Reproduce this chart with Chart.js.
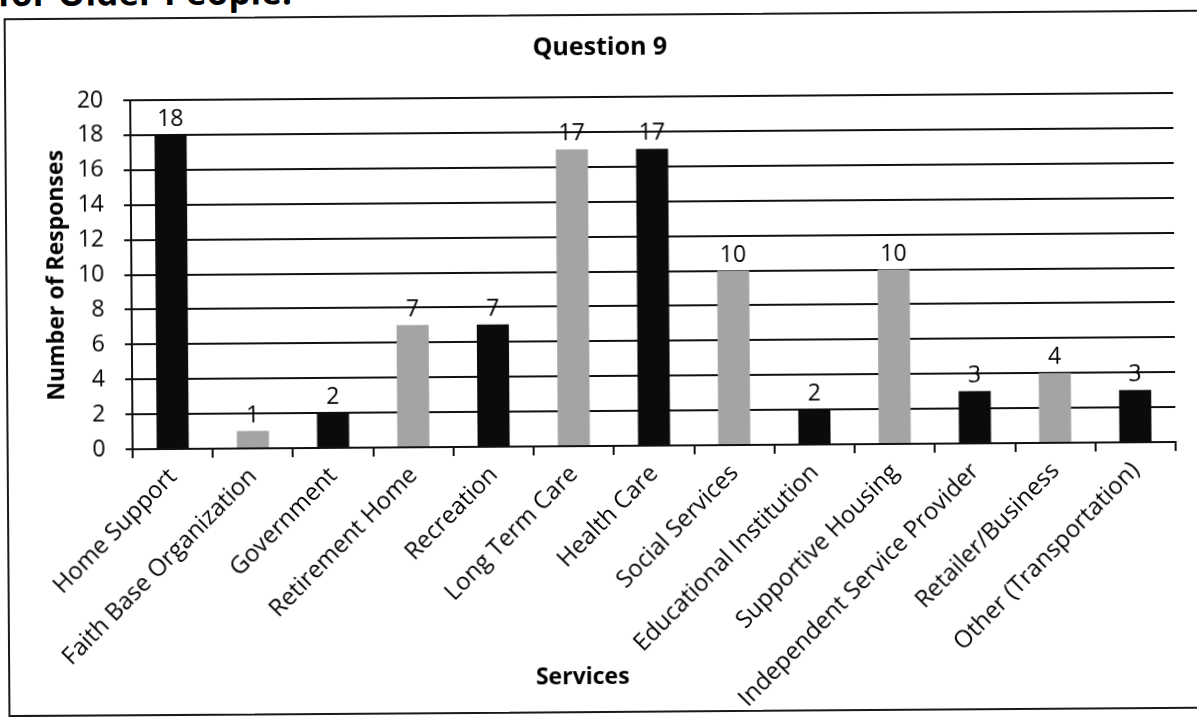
<!DOCTYPE html>
<html>
<head>
<meta charset="utf-8">
<script src="https://cdn.jsdelivr.net/npm/chart.js@4.4.1/dist/chart.umd.min.js"></script>
<style>
html, body { margin: 0; padding: 0; background: #fff; overflow: hidden; }
#page { position: relative; width: 1197px; height: 717px; transform: rotate(-0.4deg); transform-origin: 50% 50%; }
#heading { position: absolute; left: 0; top: -29px; font: bold 35px/35px "Open Sans"; color: #000; white-space: nowrap; }
#frame { position: absolute; left: 6px; top: 14px; width: 1220px; height: 695px; border: 2px solid #1a1a1a; }
#chartCanvas { position: absolute; left: 0; top: 0; }
</style>
</head>
<body>
<div id="page">
  <div id="heading">for Older People:</div>
  <div id="frame"></div>
  <canvas id="chartCanvas" width="1197" height="717"></canvas>
</div>
<script>
const services = [
    "Home Support", "Faith Base Organization", "Government", "Retirement Home",
    "Recreation", "Long Term Care", "Health Care", "Social Services",
    "Educational Institution", "Supportive Housing", "Independent Service Provider",
    "Retailer/Business", "Other (Transportation)"
];
const responses = [18, 1, 2, 7, 7, 17, 17, 10, 2, 10, 3, 4, 3];
const yMin = 0;
const yMax = 20;
const yStep = 2;

// bars alternate black / grey like the printed chart
function barColor(i){
    return i % 2 === 0 ? '#0b0b0b' : '#a4a4a4';
}

const ink = '#111';

// numbers on top of each bar
const valueLabels = {
    id: 'valueLabels',
    afterDatasetsDraw(chart){
        const ctx = chart.ctx;
        const meta = chart.getDatasetMeta(0);
        ctx.save();
        ctx.font = '23px "Open Sans"';
        ctx.fillStyle = '#000';
        ctx.textAlign = 'center';
        ctx.textBaseline = 'alphabetic';
        meta.data.forEach((bar, i) => {
            ctx.fillText(responses[i], bar.x, bar.y - 9);
        });
        ctx.restore();
    }
};

// x axis title: Excel centres it under the whole plot incl. labels, not the bars
const servicesTitle = {
    id: 'servicesTitle',
    afterDraw(chart){
        const ctx = chart.ctx;
        ctx.save();
        ctx.font = 'bold 23px "Open Sans"';
        ctx.fillStyle = '#000';
        ctx.textAlign = 'center';
        ctx.textBaseline = 'middle';
        ctx.fillText('Services', chart.width / 2 - 18, chart.height - 40);
        ctx.restore();
    }
};

const data = {
    labels: services,
    datasets: [{
        label: 'Number of Responses',
        data: responses,
        backgroundColor: services.map((s, i) => barColor(i)),
        borderWidth: 0,
        barPercentage: 0.4,
        categoryPercentage: 1
    }]
};

const config = {
    type: 'bar',
    data: data,
    plugins: [valueLabels, servicesTitle],
    options: {
        responsive: false,
        animation: false,
        layout: { padding: { left: 29, right: 22, top: 0, bottom: 0 } },
        plugins: {
            legend: { display: false },
            tooltip: { enabled: false },
            title: {
                display: true,
                text: 'Question 9',
                color: '#000',
                font: { family: 'Open Sans', size: 25, weight: 'bold' },
                padding: { top: 33, bottom: 34 }
            }
        },
        scales: {
            x: {
                offset: true,
                grid: { offset: true, drawOnChartArea: false, color: ink, lineWidth: 2, tickLength: 9 },
                border: { color: ink, width: 2 },
                ticks: {
                    autoSkip: false, maxRotation: 45, minRotation: 45,
                    color: '#000', padding: 5,
                    font: { family: 'Open Sans', size: 24 }
                },
                afterFit(scale){ scale.height = 271; }
            },
            y: {
                min: yMin,
                max: yMax,
                grid: { color: ink, lineWidth: 2, tickLength: 7 },
                border: { color: ink, width: 2 },
                ticks: {
                    stepSize: yStep, color: '#000', padding: 20,
                    font: { family: 'Open Sans', size: 23 }
                },
                title: {
                    display: true,
                    text: 'Number of Responses',
                    color: '#000',
                    font: { family: 'Open Sans', size: 23, weight: 'bold' },
                    padding: { top: 15, bottom: 0 }
                },
                afterFit(scale){ scale.width = 103; }
            }
        }
    }
};

let myChart = new Chart(document.getElementById('chartCanvas'), config);
</script>
</body>
</html>
